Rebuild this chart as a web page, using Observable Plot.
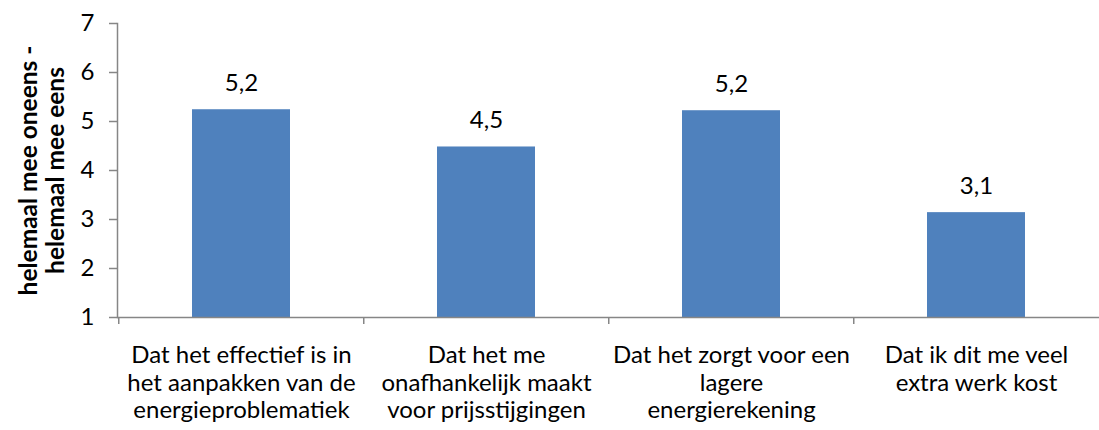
<!DOCTYPE html>
<html>
<head>
<meta charset="utf-8">
<script src="https://cdn.jsdelivr.net/npm/d3@7"></script>
<script src="https://cdn.jsdelivr.net/npm/@observablehq/plot@0.6"></script>
<style>
  html, body { margin: 0; padding: 0; background: #fff; }
  #chart svg { display: block; }
</style>
</head>
<body>
<div id="chart"></div>
<script>
const categories = [
  "Dat het effectief is in\nhet aanpakken van de\nenergieproblematiek",
  "Dat het me\nonafhankelijk maakt\nvoor prijsstijgingen",
  "Dat het zorgt voor een\nlagere\nenergierekening",
  "Dat ik dit me veel\nextra werk kost"
];
const values = [5.24, 4.48, 5.22, 3.14];
const valueLabels = ["5,2", "4,5", "5,2", "3,1"];
const yTicks = [1, 2, 3, 4, 5, 6, 7];
const yTitle = "helemaal mee oneens -\nhelemaal mee eens";

const data = categories.map((c, i) => ({cat: c, value: values[i], label: valueLabels[i]}));

const W = 1099, H = 430;
const mLeft = 117, mRight = 0, mTop = 23, mBottom = 113;
const step = (W - mLeft - mRight) / categories.length;
const gray = "#868686";
const font = "Lato, 'Open Sans', sans-serif";

const chart = Plot.plot({
  width: W,
  height: H,
  marginLeft: mLeft,
  marginRight: mRight,
  marginTop: mTop,
  marginBottom: mBottom,
  style: {fontFamily: font, fontSize: "24px", color: "#000", background: "#fff"},
  x: {domain: categories, paddingInner: 0.6, paddingOuter: 0.3, axis: null},
  y: {domain: [1, 7], axis: null},
  marks: [
    Plot.barY(data, {x: "cat", y1: 1, y2: "value", fill: "#4F81BD"}),
    Plot.text(data, {x: "cat", y: "value", text: "label", dy: -19, lineAnchor: "bottom", fontSize: 24, fill: "#000"}),
    // axis lines
    Plot.frame({anchor: "left", stroke: gray, strokeWidth: 1.5}),
    Plot.ruleY([1], {stroke: gray, strokeWidth: 1.5}),
    // category boundary ticks
    Plot.ruleX(categories, {x: d => d, dx: -step / 2, y1: 1, y2: 1, insetBottom: -7, stroke: gray, strokeWidth: 1.5}),
    // y axis ticks & labels
    Plot.axisY(yTicks, {
      ticks: yTicks, tickSize: 8, tickPadding: 15, stroke: gray, strokeWidth: 1.5,
      fontSize: 24, fill: "#000", label: null, tickFormat: d => String(d)
    }),
    // x category labels
    Plot.axisX({
      tickSize: 0, tickPadding: 26, fontSize: 24, lineHeight: 1.15, fill: "#000",
      label: null, tickFormat: d => d
    }),
    // y title
    Plot.text([yTitle], {
      frameAnchor: "left", dx: -76, rotate: -90, lineAnchor: "middle", textAnchor: "middle",
      fontWeight: "bold", fontSize: 24.5, lineHeight: 1.12, fill: "#000"
    })
  ]
});

document.getElementById("chart").appendChild(chart);
</script>
</body>
</html>
